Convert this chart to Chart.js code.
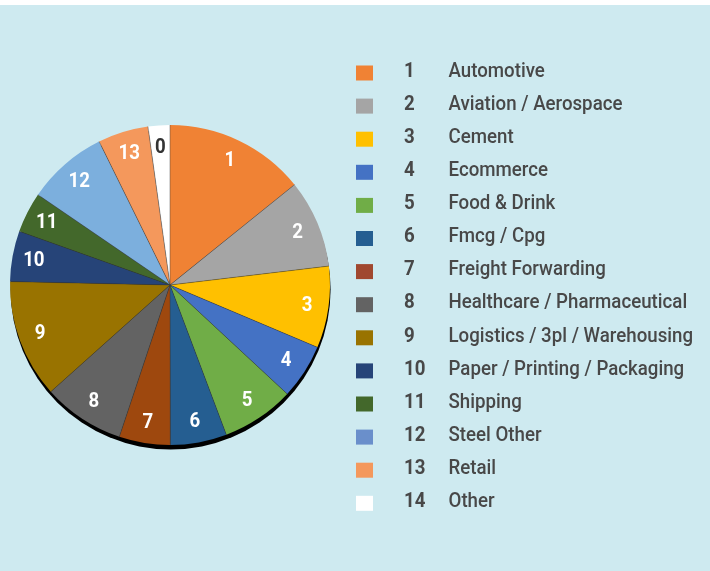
<!DOCTYPE html>
<html>
<head>
<meta charset="utf-8">
<script src="https://cdn.jsdelivr.net/npm/chart.js@4/dist/chart.umd.min.js"></script>
<style>
  html, body { margin: 0; padding: 0; background: #ffffff; width: 710px; height: 571px; overflow: hidden; }
  #wrap { position: absolute; left: 0; top: 5px; width: 710px; height: 566px; background: #CEEAF0; }
  canvas { display: block; }
</style>
</head>
<body>
<div id="wrap"><canvas id="c" width="710" height="566"></canvas></div>
<script>
const categories = ['Automotive', 'Aviation / Aerospace', 'Cement', 'Ecommerce', 'Food & Drink', 'Fmcg / Cpg',
  'Freight Forwarding', 'Healthcare / Pharmaceutical', 'Logistics / 3pl / Warehousing',
  'Paper / Printing / Packaging', 'Shipping', 'Steel Other', 'Retail', 'Other'];
const legendNumbers = ['1', '2', '3', '4', '5', '6', '7', '8', '9', '10', '11', '12', '13', '14'];
const sliceLabels = ['1', '2', '3', '4', '5', '6', '7', '8', '9', '10', '11', '12', '13', '0'];
const values = [14.2, 8.9, 8.25, 5.55, 7.35, 5.7, 5.15, 8.25, 11.95, 5.1, 4.1, 8.15, 5.1, 2.2];
const sliceColors = ['#F08234', '#A5A5A5', '#FFC000', '#4472C4', '#70AD47', '#255E91', '#9E480E',
  '#636363', '#997300', '#264478', '#43682B', '#7CAFDD', '#F4985C', '#FFFFFF'];
const legendColors = ['#F08234', '#A5A5A5', '#FFC000', '#4472C4', '#70AD47', '#255E91', '#A0482F',
  '#636363', '#997300', '#264478', '#43682B', '#6A8FCB', '#F4985C', '#FFFFFF'];

const SX = 0.89;
function condensedText(ctx, text, x, y, align) {
  ctx.save();
  ctx.translate(x, y);
  ctx.scale(SX, 1);
  ctx.textAlign = align || 'left';
  ctx.fillText(text, 0, 0);
  ctx.restore();
}

const shadowPlugin = {
  id: 'shadow',
  beforeDatasetsDraw(chart) {
    const arc = chart.getDatasetMeta(0).data[0];
    if (!arc) return;
    const ctx = chart.ctx;
    ctx.save();
    ctx.fillStyle = '#000000';
    ctx.beginPath();
    ctx.arc(arc.x + 0.6, arc.y + 4.5, arc.outerRadius, 0, Math.PI * 2);
    ctx.fill();
    ctx.restore();
  }
};

const sliceDecor = {
  id: 'sliceDecor',
  afterDatasetsDraw(chart) {
    const ctx = chart.ctx;
    const arcs = chart.getDatasetMeta(0).data;
    ctx.save();
    ctx.strokeStyle = 'rgba(60,60,60,0.55)';
    ctx.lineWidth = 0.8;
    arcs.forEach(a => {
      ctx.beginPath();
      ctx.moveTo(a.x, a.y);
      ctx.lineTo(a.x + Math.cos(a.startAngle) * a.outerRadius, a.y + Math.sin(a.startAngle) * a.outerRadius);
      ctx.stroke();
    });
    ctx.font = 'bold 21px Roboto';
    ctx.textBaseline = 'middle';
    arcs.forEach((a, i) => {
      const mid = (a.startAngle + a.endAngle) / 2;
      const r = a.outerRadius * 0.865;
      ctx.fillStyle = sliceColors[i].toUpperCase() === '#FFFFFF' ? '#333333' : '#FFFFFF';
      condensedText(ctx, sliceLabels[i], a.x + Math.cos(mid) * r, a.y + Math.sin(mid) * r + 1, 'center');
    });
    ctx.restore();
  }
};

const legendPlugin = {
  id: 'customLegend',
  afterDraw(chart) {
    const ctx = chart.ctx;
    const y0 = 65.5, step = 33.1;
    ctx.save();
    ctx.textBaseline = 'middle';
    categories.forEach((name, i) => {
      const y = y0 + i * step;
      ctx.fillStyle = legendColors[i];
      ctx.fillRect(356, y - 5, 17, 15);
      ctx.fillStyle = '#484848';
      ctx.font = 'bold 21px Roboto';
      condensedText(ctx, legendNumbers[i], 404, y + 1, 'left');
      ctx.font = '500 21px Roboto';
      condensedText(ctx, name, 448.5, y + 1, 'left');
    });
    ctx.restore();
  }
};

new Chart(document.getElementById('c'), {
  type: 'pie',
  data: {
    labels: categories,
    datasets: [{
      data: values,
      backgroundColor: sliceColors,
      borderWidth: 0
    }]
  },
  options: {
    responsive: false,
    animation: false,
    layout: { padding: { left: 10, right: 380, top: 120, bottom: 126 } },
    plugins: { legend: { display: false }, tooltip: { enabled: false } }
  },
  plugins: [shadowPlugin, sliceDecor, legendPlugin]
});
</script>
</body>
</html>
